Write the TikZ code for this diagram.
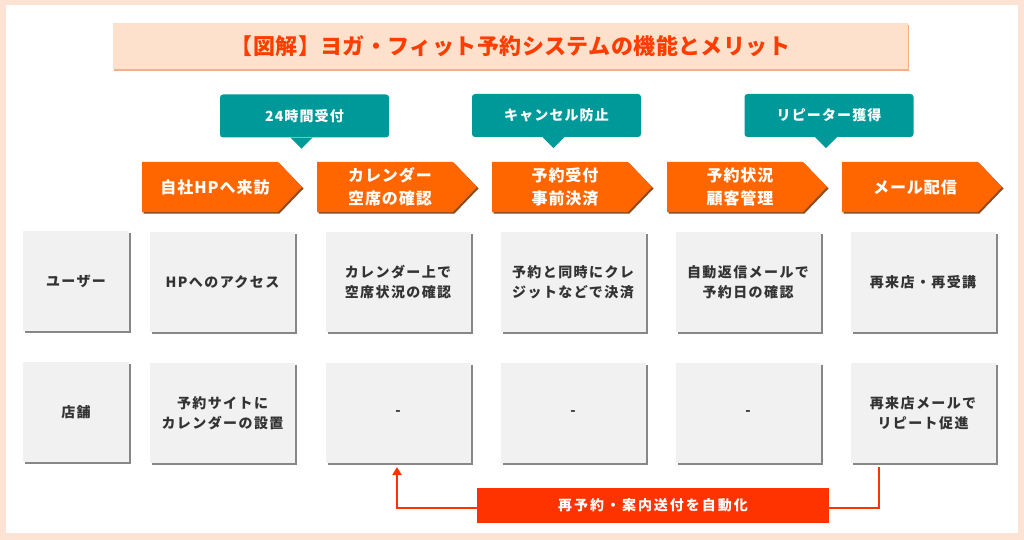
\documentclass[tikz,border=0pt]{standalone}
\usepackage{fontspec}
\setmainfont{Noto Sans CJK JP}
\usetikzlibrary{arrows.meta,shadows}
\definecolor{peach}{HTML}{FDE3D3}
\definecolor{titlefill}{HTML}{FDE1CD}
\definecolor{titleshade}{HTML}{F2B08A}
\definecolor{titletext}{HTML}{FF3D00}
\definecolor{calteal}{HTML}{00999A}
\definecolor{steporange}{HTML}{FF6600}
\definecolor{stepshade}{HTML}{8A4B1E}
\definecolor{boxgray}{HTML}{F1F1F1}
\definecolor{boxshade}{HTML}{7A7A7A}
\definecolor{boxtext}{HTML}{333333}
\definecolor{barred}{HTML}{FF3300}
\begin{document}
\begin{tikzpicture}[x=1pt,y=-1pt,
  cell/.style={fill=boxgray, minimum height=100pt, inner sep=0pt, text=boxtext,
    align=center, font=\bfseries\fontsize{14}{20}\selectfont\addfontfeature{LetterSpace=10},
    drop shadow={shadow xshift=2pt, shadow yshift=-2pt, fill=boxshade, opacity=0.9}},
  labelcell/.style={cell, minimum width=106pt},
  maincell/.style={cell, minimum width=145pt},
  steptext/.style={text=white, align=center, inner sep=0pt,
    font=\bfseries\fontsize{16}{23}\selectfont\addfontfeature{LetterSpace=6}},
  stepshape/.style={fill=steporange},
  stepshadow/.style={fill=stepshade},
  callout/.style={fill=calteal, rounded corners=3pt, minimum width=169pt, minimum height=43pt,
    inner sep=0pt, text=white, font=\bfseries\fontsize{14}{18}\selectfont\addfontfeature{LetterSpace=8}},
  pointer/.style={fill=calteal},
  link/.style={draw=barred, line width=2pt},
]
\useasboundingbox (0,0) rectangle (1024,540);
\fill[peach] (0,0) rectangle (1024,540);
\fill[white] (6,5) rectangle (1018,533);

% title
\node[fill=titlefill, minimum width=795pt, minimum height=46pt, inner sep=0pt, text=titletext,
  font=\bfseries\fontsize{22}{26}\selectfont\addfontfeature{LetterSpace=2},
  drop shadow={shadow xshift=0.5pt, shadow yshift=-2.5pt, fill=titleshade, opacity=1}]
  (title) at (510.5,46) {【図解】ヨガ・フィット予約システムの機能とメリット};

% callouts
\node[callout] (c1) at (304.5,116) {24時間受付};
\node[callout] (c2) at (556.5,115.5) {キャンセル防止};
\node[callout] (c3) at (829,115.5) {リピーター獲得};
\foreach \c in {c1,c2,c3}{
  \fill[pointer] ([xshift=-14pt]\c.south) -- ([xshift=8pt]\c.south) -- ([xshift=-3pt,yshift=-11pt]\c.south) -- cycle;
}

% step arrows
\foreach \x in {142,317,492,667,842}{
  \fill[stepshadow] (\x+1.5,163.5) -- (\x+137.5,163.5) -- (\x+161.5,188.5) -- (\x+137.5,213.5) -- (\x+1.5,213.5) -- cycle;
  \fill[stepshape] (\x,162) -- (\x+136,162) -- (\x+160,187) -- (\x+136,212) -- (\x,212) -- cycle;
}
\node[steptext] (s1) at (215,187) {自社HPへ来訪};
\node[steptext] (s2) at (390,187) {カレンダー\\空席の確認};
\node[steptext] (s3) at (565,187) {予約受付\\事前決済};
\node[steptext] (s4) at (740,187) {予約状況\\顧客管理};
\node[steptext] (s5) at (915,187) {メール配信};

% row 1
\node[labelcell] (lu) at (76,281) {ユーザー};
\node[maincell] (u1) at (222.5,282) {HPへのアクセス};
\node[maincell] (u2) at (398,282) {カレンダー上で\\空席状況の確認};
\node[maincell] (u3) at (573,282) {予約と同時にクレ\\ジットなどで決済};
\node[maincell] (u4) at (748,282) {自動返信メールで\\予約日の確認};
\node[maincell] (u5) at (923,282) {再来店・再受講};

% row 2
\node[labelcell] (ls) at (76,412) {店舗};
\node[maincell] (t1) at (222.5,413) {予約サイトに\\カレンダーの設置};
\node[maincell] (t2) at (398,413) {-};
\node[maincell] (t3) at (573,413) {-};
\node[maincell] (t4) at (748,413) {-};
\node[maincell] (t5) at (923,413) {再来店メールで\\リピート促進};

% automation bar
\node[fill=barred, minimum width=352pt, minimum height=35pt, inner sep=0pt, text=white,
  font=\bfseries\fontsize{14}{18}\selectfont\addfontfeature{LetterSpace=14}]
  (bar) at (653,505.5) {再予約・案内送付を自動化};
\coordinate (rstart) at (879,467);
\coordinate (lend) at (397,467);
\draw[link] (rstart) |- ([yshift=-2.5pt]bar.east);
\draw[link, -{Triangle[length=8pt,width=9pt]}] ([yshift=-2.5pt]bar.west) -| (lend);
\end{tikzpicture}
\end{document}
